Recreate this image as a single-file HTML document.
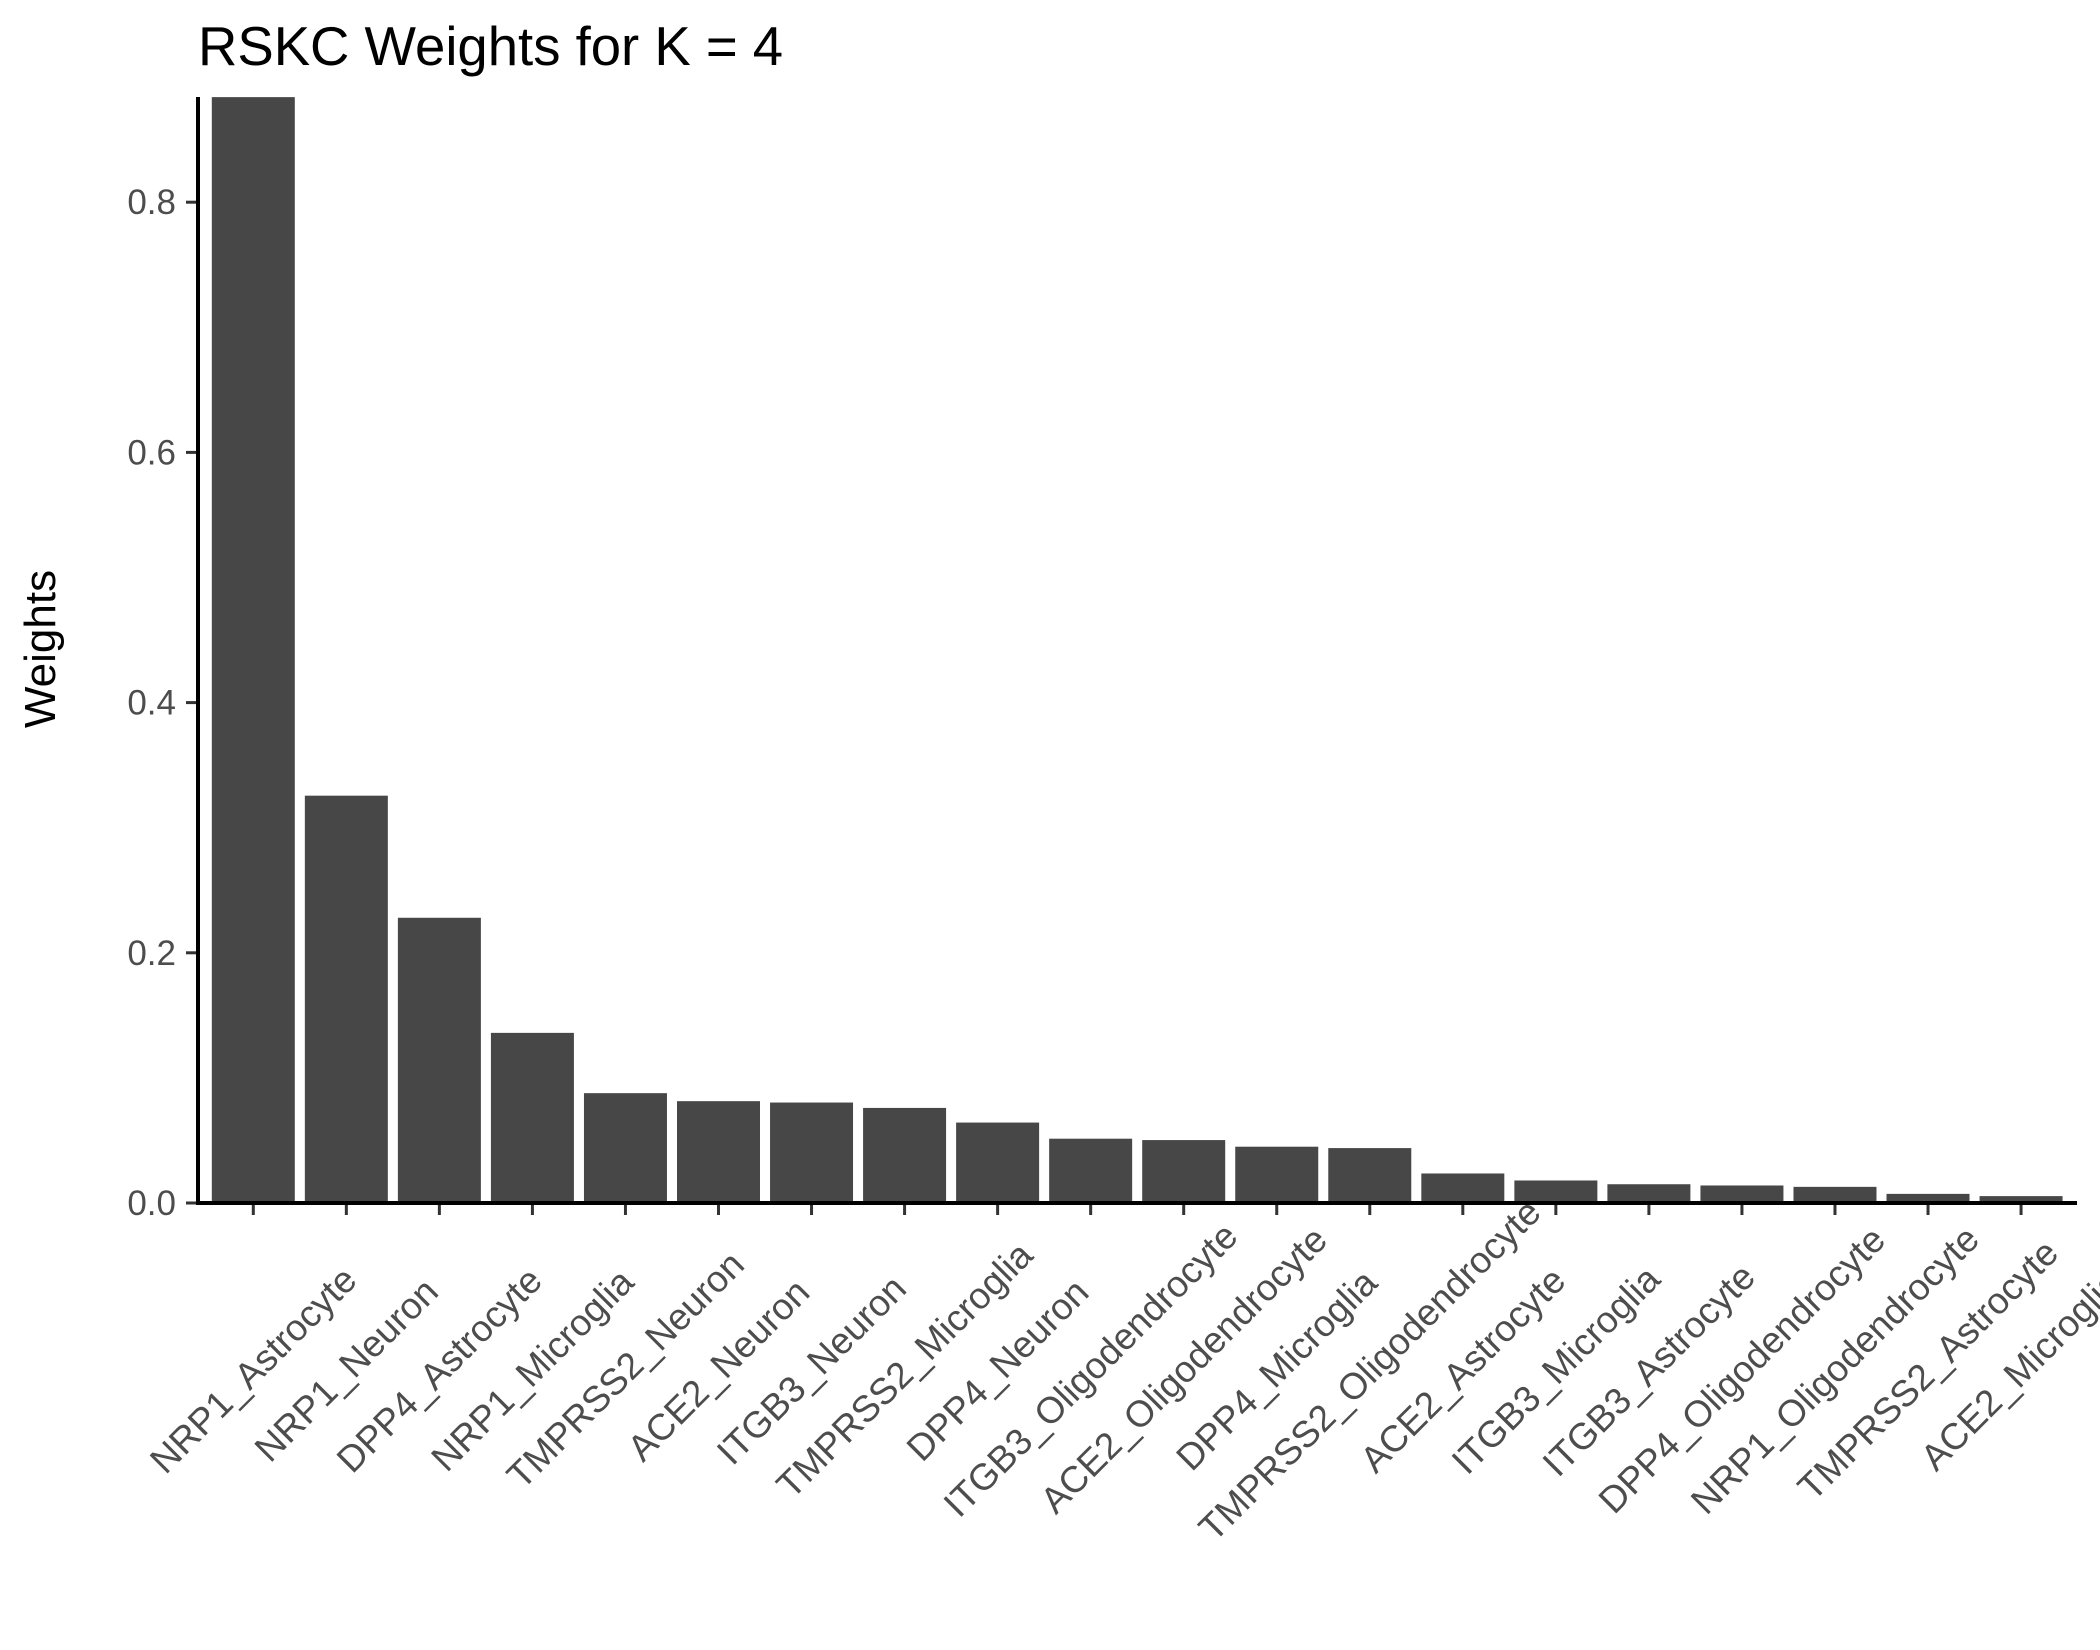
<!DOCTYPE html>
<html><head><meta charset="utf-8">
<style>
html,body{margin:0;padding:0;background:#fff;}
svg{display:block;font-family:"Liberation Sans",Arial,sans-serif;}
</style></head>
<body>
<svg id="chart" width="2100" height="1650" viewBox="0 0 2100 1650" xmlns="http://www.w3.org/2000/svg">
<text x="198" y="65" font-size="54.5" fill="#000">RSKC Weights for K = 4</text>
<text x="0" y="0" font-size="44" fill="#000" text-anchor="middle" transform="translate(55,649) rotate(-90)">Weights</text>
<g id="bars"></g>
<g id="yticks"></g>
<g id="xticks"></g>
<line x1="198" y1="97" x2="198" y2="1205" stroke="#000" stroke-width="4"/>
<line x1="196" y1="1203" x2="2077" y2="1203" stroke="#000" stroke-width="4"/>
</svg>
<script>
const categories = ["NRP1_Astrocyte","NRP1_Neuron","DPP4_Astrocyte","NRP1_Microglia","TMPRSS2_Neuron","ACE2_Neuron","ITGB3_Neuron","TMPRSS2_Microglia","DPP4_Neuron","ITGB3_Oligodendrocyte","ACE2_Oligodendrocyte","DPP4_Microglia","TMPRSS2_Oligodendrocyte","ACE2_Astrocyte","ITGB3_Microglia","ITGB3_Astrocyte","DPP4_Oligodendrocyte","NRP1_Oligodendrocyte","TMPRSS2_Astrocyte","ACE2_Microglia"];
const weights = [0.884,0.3256,0.228,0.136,0.0878,0.0814,0.0803,0.076,0.0643,0.0514,0.0503,0.045,0.0439,0.0236,0.018,0.015,0.014,0.0129,0.0073,0.0055];
const yTicks = [0.0,0.2,0.4,0.6,0.8];
const yTickLabels = ["0.0","0.2","0.4","0.6","0.8"];

const NS="http://www.w3.org/2000/svg";
const y0=1203, perUnit=1251;
const x0=253.3, step=93.04, barW=83;
function yScale(v){return y0 - v*perUnit;}
function xScale(i){return x0 + i*step;}
function mk(tag,attrs){const e=document.createElementNS(NS,tag);for(const k in attrs)e.setAttribute(k,attrs[k]);return e;}

const bars=document.getElementById('bars');
weights.forEach((v,i)=>{
  const r=mk('rect',{x:xScale(i)-barW/2,y:yScale(v),width:barW,height:y0-yScale(v),fill:'#474747'});
  
  
  bars.appendChild(r);
});

const yt=document.getElementById('yticks');
yTicks.forEach((v,i)=>{
  const y=yScale(v);
  const l=mk('line',{x1:186,y1:y,x2:198,y2:y,stroke:'#333',"stroke-width":3});
  
  
  yt.appendChild(l);
  const t=mk('text',{x:176,y:y+12,"font-size":35,fill:'#4d4d4d',"text-anchor":'end'});
  
  
  t.textContent=yTickLabels[i];
  yt.appendChild(t);
});

const xt=document.getElementById('xticks');
categories.forEach((c,i)=>{
  const x=xScale(i);
  const l=mk('line',{x1:x,y1:1203,x2:x,y2:1215,stroke:'#333',"stroke-width":3});
  
  
  xt.appendChild(l);
  const t=mk('text',{x:0,y:0,"font-size":37,fill:'#4d4d4d',"text-anchor":'middle',"dominant-baseline":'central',transform:'translate('+x+',1370) rotate(-45)'});
  
  
  t.textContent=c;
  xt.appendChild(t);
});
</script>
</body></html>
